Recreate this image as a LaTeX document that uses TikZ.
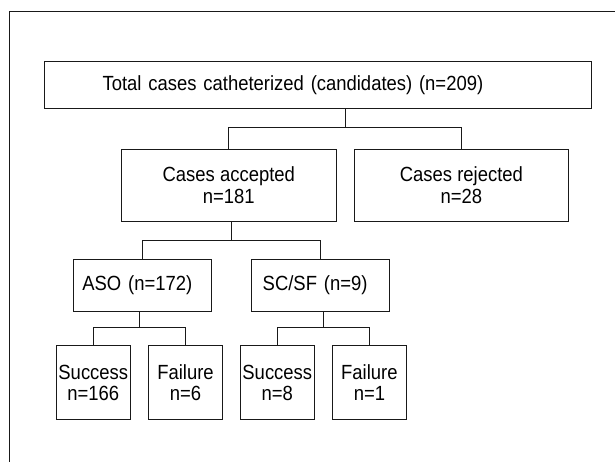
\documentclass[tikz,border=0pt]{standalone}
\usepackage{fontspec}
\setmainfont{Liberation Sans}[FakeStretch=0.9]
\usepackage{xcolor}
\usetikzlibrary{calc}

\tikzset{
  box/.style={draw=black!90, line width=1pt, rectangle, inner sep=0pt, align=center,
    font=\fontsize{20.5}{21.3}\selectfont},
  leaf/.style={box, minimum width=74.5pt, minimum height=74.3pt},
  link/.style={draw=black!90, line width=1pt},
}

\begin{document}
\begin{tikzpicture}[x=1pt,y=1pt,yscale=-1,xscale=1]
            \useasboundingbox (0,0) rectangle (615,462);

            %frame, cut at right and bottom
            \draw [link] (9.5,462) -- (9.5,11.5) -- (615,11.5) ;

            %top box
            \node [box, inner xsep=58.4pt, text width=430pt, align=left, minimum height=46.6pt] (total) at (317.6,85) {Total cases catheterized (candidates) (n=209)};
            %second row
            \node [box, minimum width=214.5pt, minimum height=71.7pt] (accepted) at (228.8,185.2) {Cases accepted\\n=181};
            \node [box, minimum width=214.5pt, minimum height=71.7pt] (rejected) at (461.4,185.2) {Cases rejected\\n=28};
            %third row
            \node [box, inner xsep=9.1pt, text width=120.3pt, align=left, minimum height=51.7pt] (aso) at (142.5,285.2) {ASO (n=172)};
            \node [box, inner xsep=11.7pt, text width=114.6pt, align=left, minimum height=51.7pt] (scsf) at (320,285.2) {SC/SF (n=9)};
            %leaves
            \node [leaf] (successA) at (93.3,382.8) {Success\\n=166};
            \node [leaf] (failureA) at (185.5,382.8) {Failure\\n=6};
            \node [leaf] (successB) at (277.3,382.8) {Success\\n=8};
            \node [leaf] (failureB) at (369.4,382.8) {Failure\\n=1};

            %split points
            \path ($(accepted.north)!.5!(rejected.north)$) ++(0,-21) coordinate (j1);
            \path ($(aso.north)!.5!(scsf.north)$) ++(0,-18.3) coordinate (j2);
            \path ($(successA.north)!.5!(failureA.north)$) ++(0,-18) coordinate (j3);
            \path ($(successB.north)!.5!(failureB.north)$) ++(0,-18) coordinate (j4);

            %connectors
            \draw [link] (total.south -| j1) -- (j1) ;
            \draw [link] (accepted.north) |- (j1) -| (rejected.north) ;
            \draw [link] (accepted.south -| j2) -- (j2) ;
            \draw [link] (aso.north) |- (j2) -| (scsf.north) ;
            \draw [link] (aso.south -| j3) -- (j3) ;
            \draw [link] (successA.north) |- (j3) -| (failureA.north) ;
            \draw [link] (scsf.south -| j4) -- (j4) ;
            \draw [link] (successB.north) |- (j4) -| (failureB.north) ;

            \end{tikzpicture}
\end{document}
